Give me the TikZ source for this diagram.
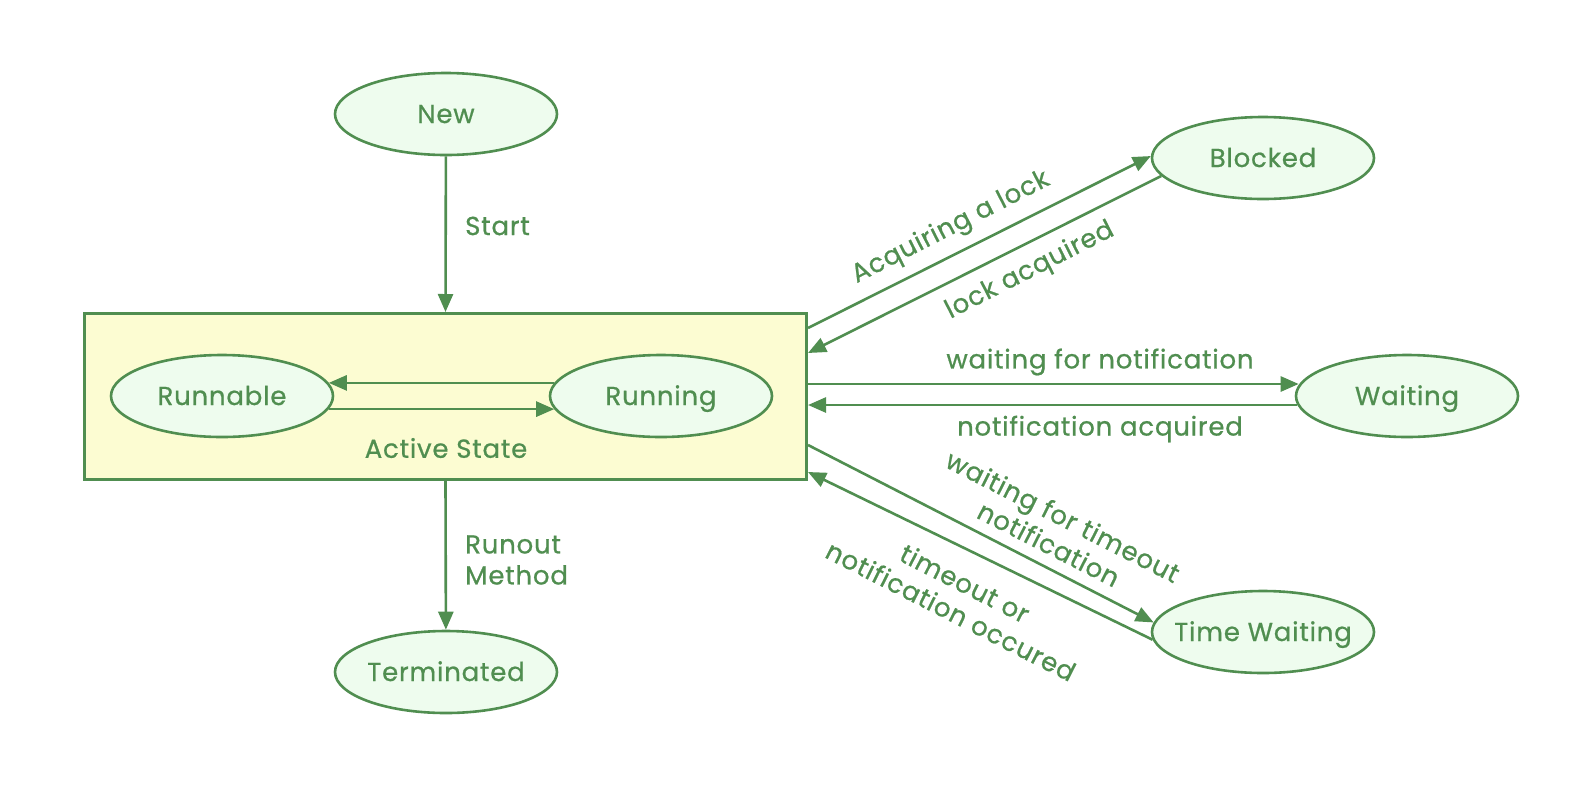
\documentclass[tikz,border=0pt]{standalone}
\usepackage{fontspec}
\setmainfont{Poppins}[FakeBold=0.7,LetterSpace=3]
\usetikzlibrary{arrows.meta,shapes.geometric,calc}
\definecolor{gline}{RGB}{80,142,80}
\definecolor{gfill}{RGB}{238,252,238}
\definecolor{yfill}{RGB}{252,252,210}
\begin{document}
\begin{tikzpicture}[x=1pt,y=-1pt,
  state/.style={ellipse,draw=gline,fill=gfill,line width=2.6pt,minimum width=222pt,minimum height=82pt,inner xsep=-20pt,inner ysep=0pt,text height=18pt,text depth=0pt,text=gline,font=\fontsize{26}{31}\selectfont},
  box/.style={draw=gline,fill=yfill,line width=3pt,minimum width=722pt,minimum height=166pt,inner sep=0pt},
  arr/.style={draw=gline,line width=2.6pt,-{Triangle[length=18pt,width=15pt]}},
  lbl/.style={text=gline,font=\fontsize{26}{31}\selectfont,inner sep=0pt,align=center}]
\useasboundingbox (0,0) rectangle (1569,793);
\fill[white] (0,0) rectangle (1569,793);
\node[box] (rect) at (445.5,396.5) {};
\node[state] (new) at (446,114) {New};
\node[state] (runnable) at (222,396) {Runnable};
\node[state] (running) at (661,396) {Running};
\node[state] (blocked) at (1263,158) {Blocked};
\node[state] (waiting) at (1407,396) {Waiting};
\node[state] (timew) at (1263,632) {Time Waiting};
\node[state] (term) at (446,672) {Terminated};
% labels
\node[lbl,anchor=west] (lstart) at (465,226) {Start};
\node[lbl,anchor=west,align=left] (lrun) at (465,560) {Runout\\Method};
\node[lbl] (lactive) at (446,448) {Active State};
\node[lbl,rotate=27] (lacq) at (951,228) {Acquiring a lock};
\node[lbl,rotate=27] (llock) at (1030,271) {lock acquired};
\node[lbl] (lwait) at (1100,362) {waiting for notification};
\node[lbl] (lnotif) at (1100,429) {notification acquired};
\node[lbl,rotate=-27] (ltw) at (1056,530) {waiting for timeout\\notification};
\node[lbl,rotate=-27] (lto) at (958,597) {timeout or\\notification occured};
% connectors
\draw[arr] (new) -- (rect.north);
\draw[arr] (rect.south) -- (term);
\draw[arr] (running.173) -- (runnable.7);
\draw[arr] (runnable.-7) -- (running.187);
\coordinate (a1) at ([yshift=68.5pt]rect.east);
\coordinate (a2) at ([yshift=43.5pt]rect.east);
\coordinate (w1) at ([yshift=12.5pt]rect.east);
\coordinate (w2) at ([yshift=-8.5pt]rect.east);
\coordinate (t1) at ([yshift=-48.5pt]rect.east);
\coordinate (t2) at ([yshift=-75.5pt]rect.east);
\draw[arr] (a1) -- (blocked.179);
\draw[arr] (blocked.190) -- (a2);
\draw[arr] (w1) -- ($(waiting.west |- w1)+(4,0)$);
\draw[arr] ($(waiting.west |- w2)+(2,0)$) -- (w2);
\draw[arr] (t1) -- (timew.175);
\draw[arr] (timew.184) -- (t2);
\end{tikzpicture}
\end{document}
